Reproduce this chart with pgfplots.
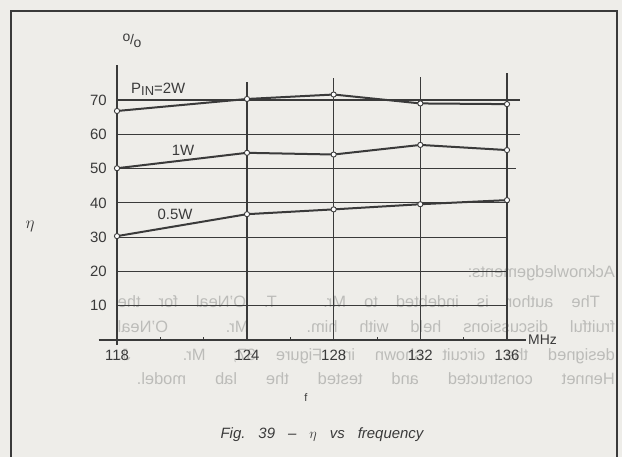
\documentclass[border=0pt]{standalone}
\usepackage{pgfplots}
\pgfplotsset{compat=1.18}
\usepackage{graphicx}
\usepackage{fontspec}
\setmainfont{Liberation Sans}
\definecolor{bg}{RGB}{238,237,233}
\definecolor{ink}{RGB}{58,58,58}
\definecolor{ghost}{RGB}{188,188,185}
\newcommand{\ghostline}[2]{\reflectbox{\makebox[#1][s]{#2}}}
\begin{document}
\begin{tikzpicture}
\useasboundingbox (0bp,0bp) rectangle (622bp,-457bp);
\clip (0bp,0bp) rectangle (622bp,-457bp);
\begin{scope}[x=1bp,y=-1bp]
\fill[bg] (0,0) rectangle (622,457);
% faint mirrored text showing through from the back of the page
\begin{scope}
\clip (13,250) rectangle (615,400);
\begin{scope}[every node/.style={text=ghost, font=\fontsize{16.5}{16.5}\selectfont, inner sep=0pt, anchor=base east}]
\node at (615,277) {\reflectbox{Acknowledgements:}};
\node at (600,307) {\ghostline{482bp}{The author is indebted to Mr. T. O'Neal for the}};
\node at (615,332) {\ghostline{497bp}{fruitful discussions held with him. Mr. O'Neal}};
\node at (615,360) {\ghostline{497bp}{designed the circuit shown in Figure 37; Mr. J.}};
\node at (615,384) {\ghostline{478bp}{Hennet constructed and tested the lab model.}};
\end{scope}
\end{scope}
% frame
\draw[ink, line width=1.3bp] (11,470) -- (11,11) -- (617,11) -- (617,470);
\end{scope}

\begin{axis}[
  at={(117bp,-340bp)}, anchor=south west,
  scale only axis, width=390bp, height=240bp,
  xmin=118, xmax=136, ymin=0, ymax=70,
  axis line style={draw=none},
  tick style={draw=none},
  major tick length=0pt, minor tick length=0pt,
  xtick={118,124,128,132,136}, ytick={10,20,30,40,50,60,70},
  tick label style={font=\fontsize{15}{15}\selectfont, text=ink, inner sep=0pt},
  xticklabel style={yshift=-10bp},
  yticklabel style={xshift=-10bp},
  /pgf/number format/assume math mode=true,
  /pgf/number format/set thousands separator={},
  clip=false,
]
% grid drawn as in the original
\begin{scope}[ink, line width=1.2bp]
\draw (axis cs:118,70) -- (axis cs:136.6,70);
\draw (axis cs:118,60) -- (axis cs:136.6,60);
\draw (axis cs:118,50) -- (axis cs:136.4,50);
\draw (axis cs:118,40) -- (axis cs:136.1,40);
\draw (axis cs:118,30) -- (axis cs:136,30);
\draw (axis cs:118,20) -- (axis cs:136,20);
\draw (axis cs:118,10) -- (axis cs:136,10);
\draw (axis cs:117.15,0) -- (axis cs:136.88,0);
\draw (axis cs:118,-1.5) -- (axis cs:118,80.2);
\draw (axis cs:124,0) -- (axis cs:124,75.2);
\draw (axis cs:128,0) -- (axis cs:128,76.4);
\draw (axis cs:132,0) -- (axis cs:132,76.7);
\draw (axis cs:136,0) -- (axis cs:136,77.9);
\draw[line width=0.8bp] (axis cs:120,0) -- (axis cs:120,1);
\draw[line width=0.8bp] (axis cs:122,0) -- (axis cs:122,1);
\draw[line width=0.8bp] (axis cs:126,0) -- (axis cs:126,1);
\draw[line width=0.8bp] (axis cs:130,0) -- (axis cs:130,1);
\draw[line width=0.8bp] (axis cs:134,0) -- (axis cs:134,1);
\end{scope}
% P_IN = 2W
\addplot[ink, line width=2bp, mark=*, mark size=2.6bp, mark options={fill=white, draw=ink, line width=0.9bp}]
 coordinates {(118,66.8) (124,70.3) (128,71.6) (132,69.0) (136,68.8)};
% 1W
\addplot[ink, line width=2bp, mark=*, mark size=2.6bp, mark options={fill=white, draw=ink, line width=0.9bp}]
 coordinates {(118,50.1) (124,54.6) (128,54.1) (132,56.9) (136,55.4)};
% 0.5W
\addplot[ink, line width=2bp, mark=*, mark size=2.6bp, mark options={fill=white, draw=ink, line width=0.9bp}]
 coordinates {(118,30.3) (124,36.7) (128,38.1) (132,39.6) (136,40.8)};
\end{axis}

\begin{scope}[x=1bp,y=-1bp, every node/.style={text=ink, inner sep=0pt}]
\node[anchor=base west, font=\fontsize{15}{15}\selectfont] at (131,93) {P\raisebox{-2.5bp}{\fontsize{13}{13}\selectfont IN}=2W};
\node[font=\fontsize{15}{15}\selectfont] at (183,150) {1W};
\node[font=\fontsize{15}{15}\selectfont] at (175,214) {0.5W};
\node[font=\fontsize{14}{14}\selectfont] at (132,41) {\raisebox{3bp}{o}\kern-0.3bp/\kern-0.3bp\raisebox{-2.5bp}{o}};
\node[anchor=west, font=\fontsize{14}{14}\selectfont] at (528,340) {MHz};
\node[font=\fontsize{16}{16}\selectfont] at (30,226) {$\eta$};
\node[font=\fontsize{11}{11}\selectfont] at (306,398) {f};
\node[font=\fontsize{15}{15}\selectfont\itshape] at (322,435) {Fig.\hspace{13bp}39\hspace{13bp}\textendash\hspace{13bp}$\eta$\hspace{13bp}vs\hspace{13bp}frequency};
\end{scope}
\end{tikzpicture}
\end{document}
